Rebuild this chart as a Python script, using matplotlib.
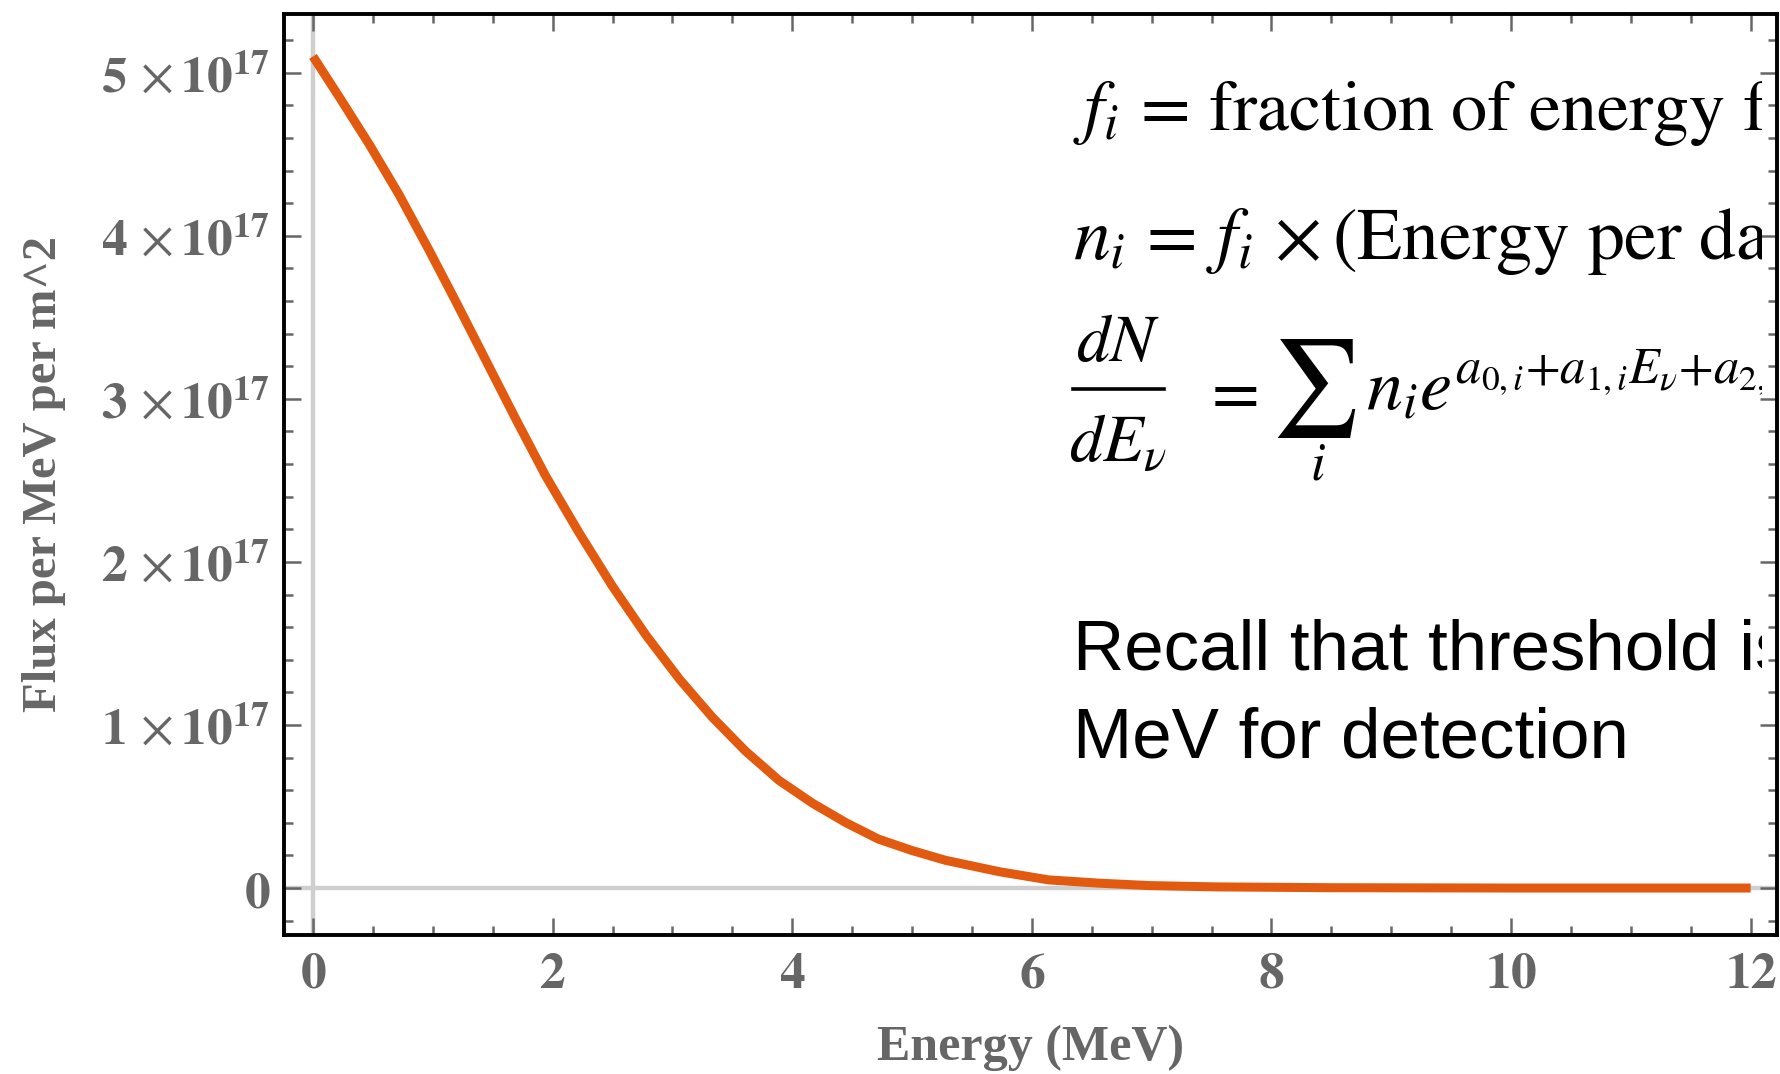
import numpy as np
import matplotlib
matplotlib.use('Agg')
import matplotlib.pyplot as plt
from matplotlib.lines import Line2D
from matplotlib.transforms import Bbox
from matplotlib.ticker import MultipleLocator, FuncFormatter

# datos (energia en MeV, flujo en unidades de 1e17)
energia = [0.0, 0.22, 0.47, 0.72, 0.97, 1.19, 1.44, 1.69, 1.94, 2.22, 2.50, 2.78,
           3.06, 3.33, 3.61, 3.89, 4.17, 4.45, 4.72, 5.00, 5.28, 5.73, 6.14, 6.56,
           6.98, 7.54, 8.5, 10.0, 12.0]
flujo = [5.10, 4.85, 4.56, 4.25, 3.91, 3.60, 3.24, 2.88, 2.53, 2.18, 1.85, 1.55,
         1.28, 1.05, 0.84, 0.66, 0.52, 0.40, 0.30, 0.23, 0.17, 0.10, 0.05, 0.03,
         0.015, 0.007, 0.002, 0.0, 0.0]
escala = 1e17

xticks = [0, 2, 4, 6, 8, 10, 12]
yticks = [0, 1, 2, 3, 4, 5]

plt.rcParams['mathtext.fontset'] = 'stix'
gris = '#666666'

fig = plt.figure(figsize=(17.8, 10.74), dpi=100)
W, H = 1780, 1074
ax = fig.add_axes([284 / W, 1 - 935 / H, (1777 - 284) / W, (935 - 14) / H])

# lineas de ejes en cero
ax.axhline(0, color='#cfcfcf', lw=3.2, zorder=1)
ax.axvline(0, color='#cfcfcf', lw=3.2, zorder=1)

y = np.array(flujo) * escala
ax.plot(energia, y, color='#E25A10', lw=6.5, solid_capstyle='butt',
        solid_joinstyle='round', zorder=3)

ax.set_xlim(-0.242, 12.22)
ax.set_ylim(-0.288 * escala, 5.36 * escala)

ax.set_xticks(xticks)
ax.set_yticks([v * escala for v in yticks])
ax.xaxis.set_minor_locator(MultipleLocator(0.5))
ax.yaxis.set_minor_locator(MultipleLocator(0.2 * escala))


def etiqueta_y(v, pos):
    n = int(round(v / escala))
    if n == 0:
        return r'$\mathbf{0}$'
    return r'$\mathbf{%d}\,\times\mathbf{10}^{\mathbf{17}}$' % n


ax.yaxis.set_major_formatter(FuncFormatter(etiqueta_y))
ax.xaxis.set_major_formatter(FuncFormatter(lambda v, p: r'$\mathbf{%d}$' % int(round(v))))

ax.tick_params(which='both', direction='in', top=True, right=True, colors=gris)
ax.tick_params(which='major', length=12, width=1.8, labelsize=37, pad=10)
ax.tick_params(which='minor', length=6.5, width=1.8)
for lab in ax.get_xticklabels() + ax.get_yticklabels():
    lab.set_color(gris)

for s in ax.spines.values():
    s.set_linewidth(2.8)
    s.set_color('black')

ax.set_xlabel('Energy (MeV)', fontsize=36, fontweight='bold', color=gris,
              family='Liberation Serif', va='top')
ax.xaxis.set_label_coords(0.5, (935 - 1025) / 921)
ax.set_ylabel('Flux per MeV per m^2', fontsize=35, fontweight='bold', color=gris,
              family='Liberation Serif')
ax.yaxis.set_label_coords((66 - 284) / 1493, 0.5)

# texto de la diapositiva (recortado justo antes del borde derecho)
recorte = Bbox.from_extents(0, 0, 1762, H)
textos = []


def px(x, yy):
    return x / W, 1 - yy / H


x0 = 1073
textos.append(fig.text(*px(x0, 130),
                       r'$f_i\,=\,\mathrm{fraction\ of\ energy\ from\ isotope\ } i$',
                       fontsize=52, color='black', va='baseline'))
textos.append(fig.text(*px(x0, 259),
                       r'$n_i\,=\,f_i\,\times(\mathrm{Energy\ per\ day}) / \langle E_i \rangle$',
                       fontsize=53, color='black', va='baseline'))

# dN/dE como fraccion armada a mano
xc = 1118
fig.text(*px(xc, 361), r'$dN$', fontsize=48, ha='center', va='baseline')
fig.text(*px(xc, 462), r'$dE_\nu$', fontsize=48, ha='center', va='baseline')
fig.add_artist(Line2D([1073 / W, 1164 / W], [1 - 389 / H, 1 - 389 / H],
                      color='black', lw=2.6, transform=fig.transFigure))
fig.text(*px(1201, 392), r'$=$', fontsize=50, ha='left', va='center')
fig.text(*px(1271, 388), r'$\sum$', fontsize=70, ha='left', va='center')
fig.text(*px(1318, 480), r'$i$', fontsize=38, ha='center', va='baseline')
textos.append(fig.text(*px(1366, 409),
                       r'$n_i e^{a_{0,i}{+}a_{1,i}E_\nu{+}a_{2,i}E_\nu^2}$',
                       fontsize=52, ha='left', va='baseline'))

textos.append(fig.text(*px(x0, 670), 'Recall that threshold is 1.8', fontsize=51,
                       family='Liberation Sans', color='black', va='baseline'))
textos.append(fig.text(*px(x0, 758), 'MeV for detection', fontsize=51,
                       family='Liberation Sans', color='black', va='baseline'))
for t in textos:
    t.set_clip_box(recorte)
    t.set_clip_on(True)

plt.savefig('out.png', dpi=100)
